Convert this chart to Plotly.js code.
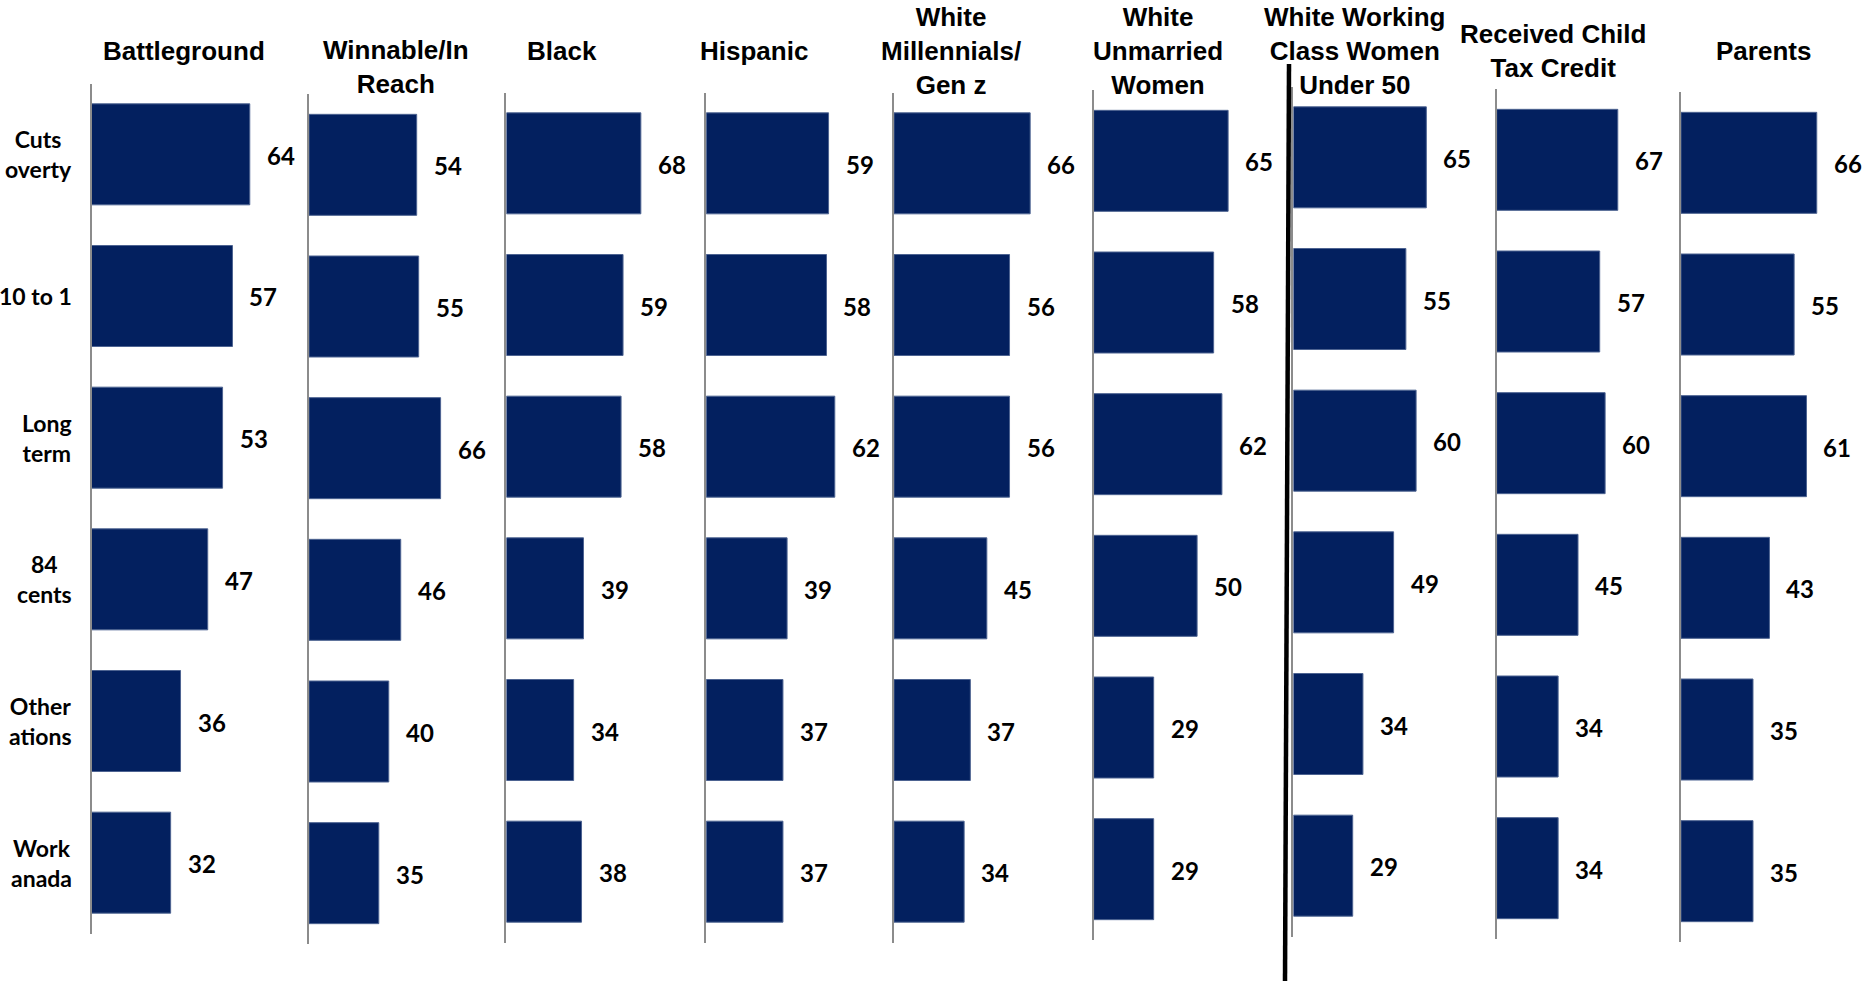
<!DOCTYPE html>
<html>
<head>
<meta charset="utf-8">
<script src="https://cdn.plot.ly/plotly-3.0.1.min.js"></script>
<style>html,body{margin:0;padding:0;background:#fff;}#chart{width:1864px;height:981px;}</style>
</head>
<body>
<div id="chart"></div>
<script>
// ---- data ----
const categories = ["Cuts<br>overty", "10 to 1", "Long<br>term", "84<br>cents", "Other<br>ations", "Work<br>anada"];
const groups = ["Battleground", "Winnable/In<br>Reach", "Black", "Hispanic",
  "White<br>Millennials/<br>Gen z", "White<br>Unmarried<br>Women",
  "White Working<br>Class Women<br>Under 50", "Received Child<br>Tax Credit", "Parents"];
const battleground = [64, 57, 53, 47, 36, 32];
const winnable = [54, 55, 66, 46, 40, 35];
const black = [68, 59, 58, 39, 34, 38];
const hispanic = [59, 58, 62, 39, 37, 37];
const millennials = [66, 56, 56, 45, 37, 34];
const unmarried = [65, 58, 62, 50, 29, 29];
const wwcWomen = [65, 55, 60, 49, 34, 29];
const childTaxCredit = [67, 57, 60, 45, 34, 34];
const parents = [66, 55, 61, 43, 35, 35];
const seriesList = [battleground, winnable, black, hispanic, millennials, unmarried, wwcWomen, childTaxCredit, parents];

// ---- layout geometry (pixels) ----
const W = 1864, H = 981;
const axStart = [91.5, 309, 506.4, 706.2, 894, 1093.7, 1293.4, 1496.7, 1681];
const axScale = [2.473, 1.994, 1.977, 2.074, 2.063, 2.068, 2.045, 1.807, 2.057];
const axTop = [83.5, 94, 92.5, 92.5, 92.5, 90, 86.5, 89, 92];
const headerX = [184, 396, 562, 754, 951, 1158, 1355, 1553, 1763];
const headerY = [51, 67, 51, 51, 51, 51, 51, 51, 51];
const plotH = 850;
const R = 80;

const barColor = '#03205f';
const valueFont = {family: 'Lato, "Open Sans", sans-serif', size: 24, color: '#000'};
const headFont = {family: '"Liberation Sans", Arial, sans-serif', size: 26, color: '#000'};

const traces = [];
const layout = {
  width: W, height: H,
  margin: {l: 0, r: 0, t: 0, b: 0, pad: 0},
  paper_bgcolor: '#fff', plot_bgcolor: 'rgba(0,0,0,0)',
  showlegend: false,
  bargap: 0.287,
  annotations: [],
  shapes: []
};

seriesList.forEach((vals, i) => {
  const k = i === 0 ? '' : String(i + 1);
  traces.push({
    type: 'bar', orientation: 'h',
    x: vals, y: categories,
    xaxis: 'x' + k, yaxis: 'y' + k,
    marker: {color: barColor, line: {color: '#4d6391', width: 1}},
    hoverinfo: 'none', cliponaxis: false
  });
  layout['xaxis' + k] = {
    domain: [axStart[i] / W, (axStart[i] + axScale[i] * R) / W],
    range: [0, R], visible: false, fixedrange: true, anchor: 'y' + k
  };
  layout['yaxis' + k] = {
    domain: [1 - (axTop[i] + plotH) / H, 1 - axTop[i] / H],
    type: 'category', categoryarray: categories, autorange: 'reversed',
    showticklabels: false, ticks: '', showgrid: false, zeroline: false,
    showline: true, linecolor: '#8c8c8c', linewidth: 2,
    anchor: 'x' + k, fixedrange: true
  };
  // value labels
  vals.forEach((v, j) => {
    layout.annotations.push({
      xref: 'x' + k, yref: 'y' + k, x: v, y: categories[j],
      text: '<b>' + v + '</b>', showarrow: false, xanchor: 'left', yanchor: 'middle',
      xshift: 15, yshift: -1, font: valueFont
    });
  });
  // headers
  layout.annotations.push({
    xref: 'paper', yref: 'paper', x: headerX[i] / W, y: 1 - headerY[i] / H,
    text: '<b>' + groups[i] + '</b>', showarrow: false,
    xanchor: 'center', yanchor: 'middle', align: 'center', font: headFont
  });
});

// category labels (left edge)
categories.forEach((c) => {
  layout.annotations.push({
    xref: 'paper', yref: 'y', x: 74 / W, y: c,
    text: '<b>' + c + '</b>', showarrow: false,
    xanchor: 'right', yanchor: 'middle', align: 'center',
    font: {family: 'Lato, "Open Sans", sans-serif', size: 23, color: '#000'}
  });
});

// thick black divider
layout.shapes.push({
  type: 'line', xref: 'paper', yref: 'paper',
  x0: 1289 / W, y0: 1 - 64 / H, x1: 1285 / W, y1: 0,
  line: {color: '#000', width: 4.5}
});

Plotly.newPlot('chart', traces, layout, {displayModeBar: false, staticPlot: true});
</script>
</body>
</html>
